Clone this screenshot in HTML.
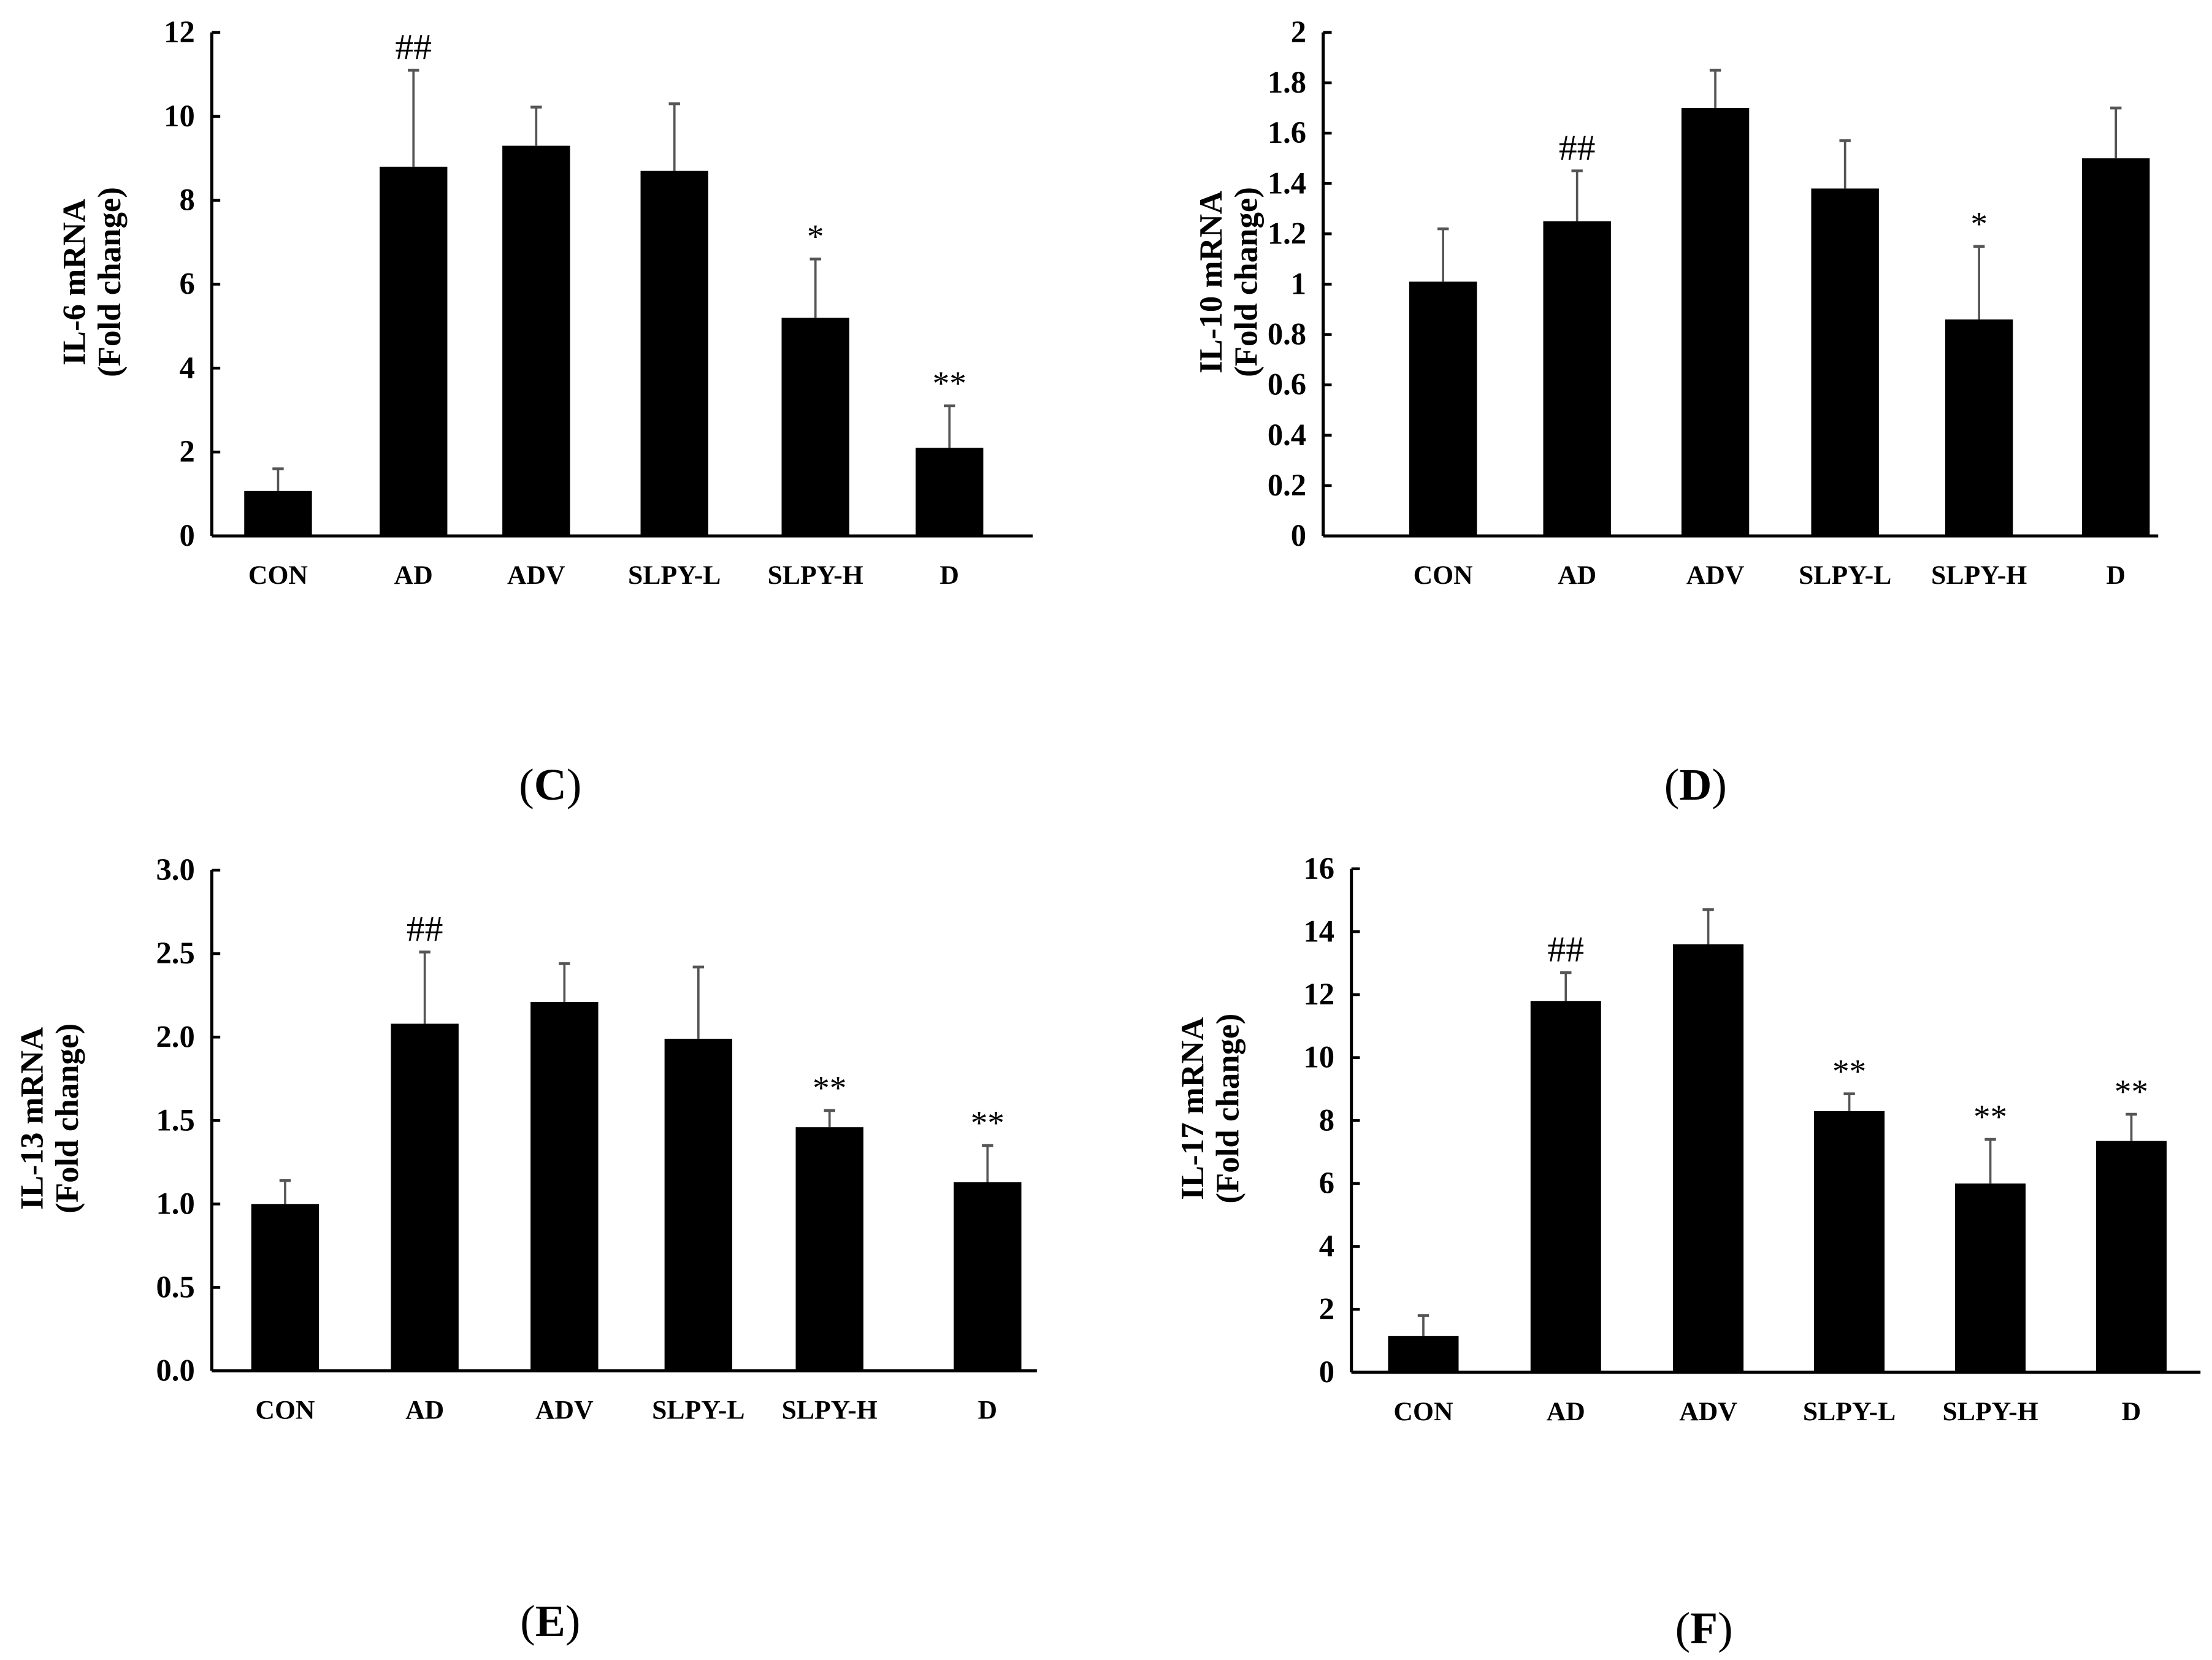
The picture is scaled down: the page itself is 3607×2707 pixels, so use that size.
<!DOCTYPE html>
<html><head><meta charset="utf-8"><style>
html,body{margin:0;padding:0;background:#fff}
svg{display:block}
text{font-family:"Liberation Serif",serif;fill:#000}
.b{font-weight:bold}
</style></head><body>
<svg id="fig" width="3607" height="2707" viewBox="0 0 1568 1177" xmlns="http://www.w3.org/2000/svg"></svg>
<script>
const categories = ["CON","AD","ADV","SLPY-L","SLPY-H","D"];
const il6Values = [1.07, 8.8, 9.3, 8.7, 5.2, 2.1];
const il6Errors = [0.53, 2.3, 0.92, 1.6, 1.4, 1.0];
const il6Marks = ["", "##", "", "", "*", "**"];
const il6Ticks = ["0","2","4","6","8","10","12"];
const il10Values = [1.01, 1.25, 1.70, 1.38, 0.86, 1.50];
const il10Errors = [0.21, 0.20, 0.15, 0.19, 0.29, 0.20];
const il10Marks = ["", "##", "", "", "*", ""];
const il10Ticks = ["0","0.2","0.4","0.6","0.8","1","1.2","1.4","1.6","1.8","2"];
const il13Values = [1.0, 2.08, 2.21, 1.99, 1.46, 1.13];
const il13Errors = [0.14, 0.43, 0.23, 0.43, 0.10, 0.22];
const il13Marks = ["", "##", "", "", "**", "**"];
const il13Ticks = ["0.0","0.5","1.0","1.5","2.0","2.5","3.0"];
const il17Values = [1.15, 11.8, 13.6, 8.3, 6.0, 7.35];
const il17Errors = [0.65, 0.9, 1.1, 0.55, 1.4, 0.85];
const il17Marks = ["", "##", "", "**", "**", "**"];
const il17Ticks = ["0","2","4","6","8","10","12","14","16"];

const NS="http://www.w3.org/2000/svg";
const svg=document.getElementById('fig');
function mk(tag,attrs,parent,txt){const e=document.createElementNS(NS,tag);for(const k in attrs)e.setAttribute(k,attrs[k]);if(txt!==undefined)e.textContent=txt;(parent||svg).appendChild(e);return e;}

function panel(o){
  const g=mk('g',{});
  
  
  const ymax=parseFloat(o.ticks[o.ticks.length-1]);
  const y=v=>o.y0-(v/ymax)*(o.y0-o.ytop);
  const x=i=>o.centers[i];
  const ax=mk('line',{x1:o.ax,y1:o.ytop,x2:o.ax,y2:o.y0,stroke:'#000','stroke-width':2.2},g);
  
  
  const xa=mk('line',{x1:o.ax,y1:o.y0,x2:o.xend,y2:o.y0,stroke:'#000','stroke-width':2.2},g);
  
  
  o.ticks.forEach(t=>{
    const v=parseFloat(t),yy=y(v);
    mk('line',{x1:o.ax,y1:yy,x2:o.ax+6,y2:yy,stroke:'#000','stroke-width':2},g);
    const tl=mk('text',{x:o.ax-12,y:yy+7,'text-anchor':'end','font-size':22,'class':'b'},g,t);
    
    
  });
  categories.forEach((c,i)=>{
    const v=o.values[i],e=o.errors[i];
    const top=y(v),et=y(v+e);
    mk('line',{x1:x(i),y1:top,x2:x(i),y2:et,stroke:'#555','stroke-width':1.6},g);
    mk('line',{x1:x(i)-4,y1:et,x2:x(i)+4,y2:et,stroke:'#555','stroke-width':2},g);
    const r=mk('rect',{x:x(i)-o.bw/2,y:top,width:o.bw,height:o.y0-top,fill:'#000'},g);
    
    
    if(o.marks[i]){
      const m=mk('text',{x:x(i),y:et-8,'text-anchor':'middle','font-size':o.marks[i][0]=='#'?26:24,fill:'#444'},g,o.marks[i]);
      
      
    }
    const l=mk('text',{x:x(i),y:o.y0+34,'text-anchor':'middle','font-size':19,'class':'b'},g,c);
    
    
  });
  const yt=mk('text',{transform:`translate(${o.tx},${o.ty}) rotate(-90)`,'text-anchor':'middle','font-size':23,'class':'b'},g);
  
  
  mk('tspan',{x:0,dy:0},yt,o.title);
  mk('tspan',{x:0,dy:25},yt,'(Fold change)');
  const cap=mk('text',{x:o.capx,y:o.capy,'text-anchor':'middle','font-size':32},g);
  
  
  mk('tspan',{},cap,'(');mk('tspan',{'font-weight':'bold'},cap,o.cap);mk('tspan',{},cap,')');
}
panel({id:'il6',values:il6Values,errors:il6Errors,marks:il6Marks,ticks:il6Ticks,ax:150,y0:380,ytop:23,xend:732,
  centers:[197,293,380,478,578,673],bw:48,title:'IL-6 mRNA',tx:60,ty:200,cap:'C',capx:390,capy:567});
panel({id:'il10',values:il10Values,errors:il10Errors,marks:il10Marks,ticks:il10Ticks,ax:938,y0:380,ytop:23,xend:1530,
  centers:[1023,1118,1216,1308,1403,1500],bw:48,title:'IL-10 mRNA',tx:866,ty:200,cap:'D',capx:1202,capy:567});
panel({id:'il13',values:il13Values,errors:il13Errors,marks:il13Marks,ticks:il13Ticks,ax:150,y0:972,ytop:617,xend:735,
  centers:[202,301,400,495,588,700],bw:48,title:'IL-13 mRNA',tx:30,ty:793,cap:'E',capx:390,capy:1160});
panel({id:'il17',values:il17Values,errors:il17Errors,marks:il17Marks,ticks:il17Ticks,ax:958,y0:973,ytop:616,xend:1560,
  centers:[1009,1110,1211,1311,1411,1511],bw:50,title:'IL-17 mRNA',tx:853,ty:786,cap:'F',capx:1208,capy:1165});
</script>
</body></html>
